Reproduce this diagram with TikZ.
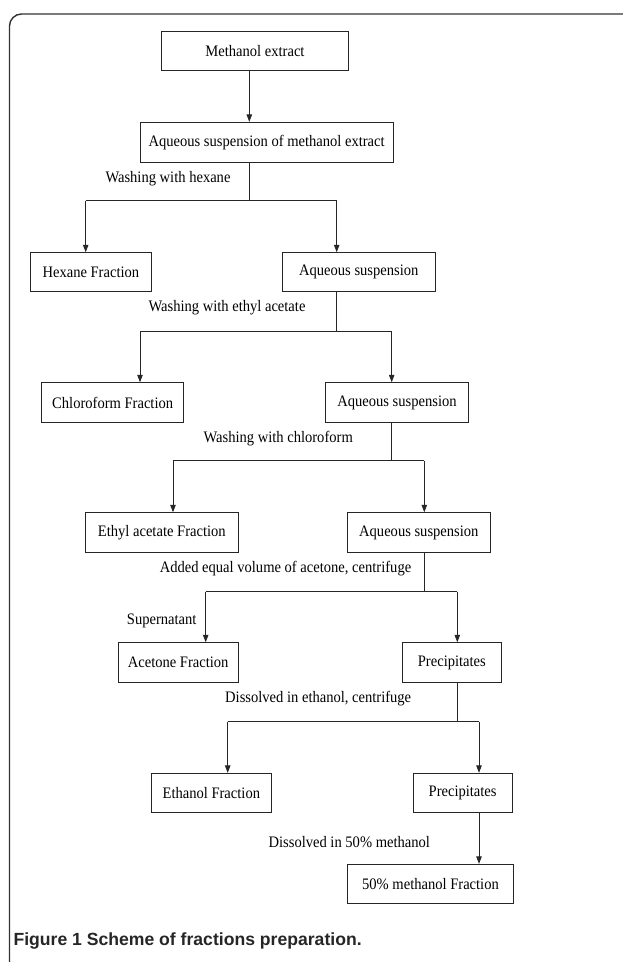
\documentclass[tikz,border=0pt]{standalone}
\usepackage{fontspec}
\setmainfont{Liberation Serif}[FakeStretch=0.91]
\newfontfamily\capfont{Liberation Sans}
\usetikzlibrary{arrows.meta}
\begin{document}
\begin{tikzpicture}[x=1pt,y=-1pt,
  ink/.style={draw=black!85, line width=0.9pt},
  box/.style={ink, rectangle, inner sep=0pt, font=\fontsize{16}{18}\selectfont},
  lbl/.style={inner sep=0pt, font=\fontsize{16}{18}\selectfont},
  ln/.style={ink},
  arr/.style={ink, -{Triangle[length=7.5pt,width=5.5pt]}},
  frame/.style={draw=black!80, line width=1.4pt}
]
\useasboundingbox (0,0) rectangle (622,962);
\fill[white] (0,0) rectangle (622,962);
% outer frame
\draw[frame, rounded corners=12pt] (9.5,964) -- (9.5,14) -- (624,14);

% boxes
\node[box, minimum width=186.6pt, minimum height=39.3pt] (me)   at (255,50.65)   {Methanol extract};
\node[box, minimum width=253.3pt, minimum height=40pt]   (aq0)  at (266.65,142.3) {Aqueous suspension of methanol extract};
\node[box, minimum width=120.3pt, minimum height=39pt]   (hex)  at (90.85,272.2)  {Hexane Fraction};
\node[box, minimum width=153pt,   minimum height=39pt]   (aq1)  at (358.8,272.2)  {Aqueous suspension};
\node[box, minimum width=142pt,   minimum height=39.6pt] (chl)  at (112.7,402.5)  {Chloroform Fraction};
\node[box, minimum width=142.6pt, minimum height=39.6pt] (aq2)  at (397,402.5)    {Aqueous suspension};
\node[box, minimum width=153pt,   minimum height=39.6pt] (eth)  at (161.8,532.5)  {Ethyl acetate Fraction};
\node[box, minimum width=142.3pt, minimum height=39.6pt] (aq3)  at (418.85,532.5) {Aqueous suspension};
\node[box, minimum width=120.3pt, minimum height=39.6pt] (ace)  at (178.15,662.5) {Acetone Fraction};
\node[box, minimum width=98.3pt,  minimum height=39.6pt] (pre1) at (451.85,662.5) {Precipitates};
\node[box, minimum width=119.3pt, minimum height=39.4pt] (etf)  at (211.35,793)   {Ethanol Fraction};
\node[box, minimum width=98.7pt,  minimum height=39.4pt] (pre2) at (462.65,793)   {Precipitates};
\node[box, minimum width=165.6pt, minimum height=39pt]   (mf)   at (430.5,883.8)  {50\% methanol Fraction};

% labels
\node[lbl] (l1) at (168,179)     {Washing with hexane};
\node[lbl] (l2) at (227,307.7)   {Washing with ethyl acetate};
\node[lbl] (l3) at (278.2,438.3) {Washing with chloroform};
\node[lbl] (l4) at (285.5,569)   {Added equal volume of acetone, centrifuge};
\node[lbl] (l5) at (161.7,620.7) {Supernatant};
\node[lbl] (l6) at (318.2,698.3) {Dissolved in ethanol, centrifuge};
\node[lbl] (l7) at (349.3,842.3) {Dissolved in 50\% methanol};

% junction coordinates
\coordinate (s0) at (249.3,0);
\coordinate (b1l) at (85.7,200.7);  \coordinate (b1r) at (336.7,200.7);
\coordinate (b2l) at (140,331);     \coordinate (b2r) at (391.7,331);
\coordinate (b3l) at (173,460.7);   \coordinate (b3r) at (424.3,460.7);
\coordinate (b4l) at (205.7,591.5); \coordinate (b4r) at (457.3,591.5);
\coordinate (b5l) at (227.7,721.7); \coordinate (b5r) at (479,721.7);

% connectors
\draw[arr] (me.south -| s0) -- (aq0.north -| s0);
\draw[ln] (aq0.south -| s0) -- (s0 |- b1l);
\draw[ln] (b1l) -- (b1r);
\draw[arr] (b1l) -- (hex.north -| b1l);
\draw[arr] (b1r) -- (aq1.north -| b1r);

\draw[ln] (aq1.south -| b1r) -- (b1r |- b2l);
\draw[ln] (b2l) -- (b2r);
\draw[arr] (b2l) -- (chl.north -| b2l);
\draw[arr] (b2r) -- (aq2.north -| b2r);

\draw[ln] (aq2.south -| b2r) -- (b2r |- b3l);
\draw[ln] (b3l) -- (b3r);
\draw[arr] (b3l) -- (eth.north -| b3l);
\draw[arr] (b3r) -- (aq3.north -| b3r);

\draw[ln] (aq3.south -| b3r) -- (b3r |- b4l);
\draw[ln] (b4l) -- (b4r);
\draw[arr] (b4l) -- (ace.north -| b4l);
\draw[arr] (b4r) -- (pre1.north -| b4r);

\draw[ln] (pre1.south -| b4r) -- (b4r |- b5l);
\draw[ln] (b5l) -- (b5r);
\draw[arr] (b5l) -- (etf.north -| b5l);
\draw[arr] (b5r) -- (pre2.north -| b5r);

\draw[arr] (pre2.south -| b5r) -- (mf.north -| b5r);

% caption
\node[anchor=base west, inner sep=0pt, text=black!85, font=\capfont\bfseries\fontsize{17.6}{20}\selectfont] (cap) at (13.3,945.5) {Figure 1 Scheme of fractions preparation.};
\end{tikzpicture}
\end{document}
